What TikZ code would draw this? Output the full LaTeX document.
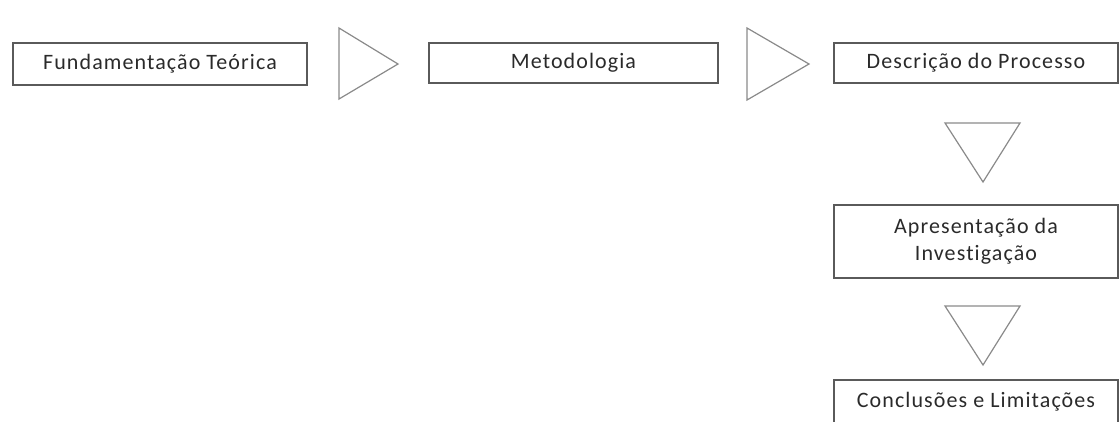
\documentclass[tikz,border=0pt]{standalone}
\usepackage{fontspec}
\setmainfont{Carlito}[Ligatures=NoCommon,LetterSpace=5]
\begin{document}
\begin{tikzpicture}[x=1pt,y=-1pt,
  boxst/.style={draw=boxgray,line width=1.4pt,align=center,font=\fontsize{22}{27}\selectfont,text=textgray},
  tri/.style={draw=trigray,line width=1.2pt}]
\definecolor{boxgray}{HTML}{5A5A5A}
\definecolor{trigray}{HTML}{8A8A8A}
\definecolor{textgray}{HTML}{2A2A2A}
\useasboundingbox (0,0) rectangle (1119,421);
\node[boxst,minimum width=294pt,minimum height=42pt] (a) at (160,64) {Fundamentação Teórica};
\node[boxst,minimum width=289pt,minimum height=40pt] (b) at (573.5,63) {Metodologia};
\node[boxst,minimum width=284pt,minimum height=40pt] (c) at (976,63) {Descrição do Processo};
\node[boxst,minimum width=284pt,minimum height=73pt] (d) at (976,241.5) {Apresentação da\\Investigação};
\node[boxst,minimum width=284pt,minimum height=44pt] (e) at (976,402) {Conclusões e Limitações};
\draw[tri] (339,28) coordinate (t1a) -- (398,64) coordinate (t1b) -- (339,99) coordinate (t1c) -- cycle;
\draw[tri] (747,28) coordinate (t2a) -- (809,64) coordinate (t2b) -- (747,100) coordinate (t2c) -- cycle;
\draw[tri] (945,123) coordinate (t3a) -- (1020,123) coordinate (t3b) -- (983,182) coordinate (t3c) -- cycle;
\draw[tri] (945,306) coordinate (t4a) -- (1020,306) coordinate (t4b) -- (983,365) coordinate (t4c) -- cycle;
\end{tikzpicture}
\end{document}
